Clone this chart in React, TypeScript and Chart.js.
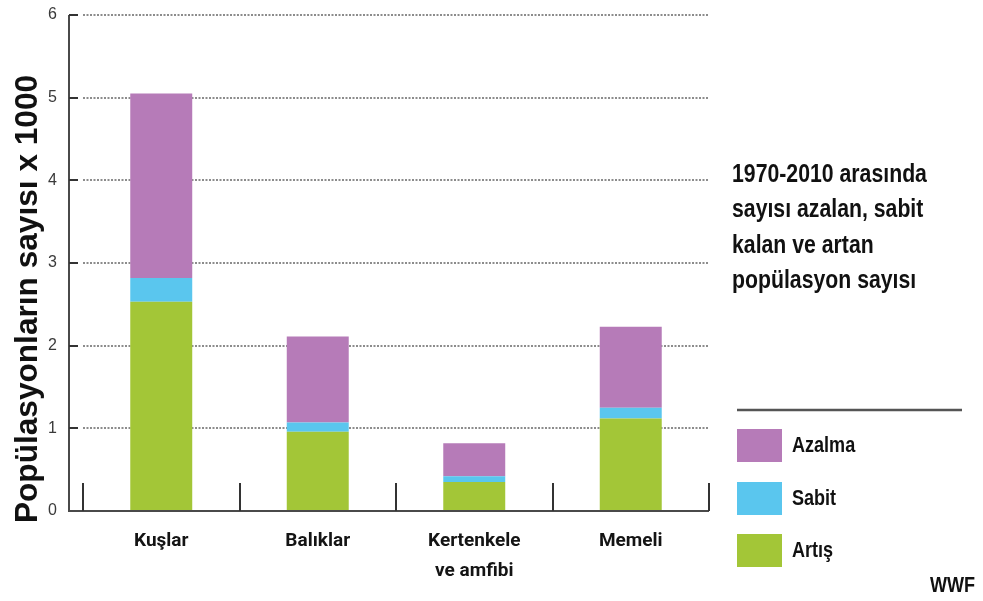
import React, { useEffect, useRef } from "react";
import { Chart, registerables } from "chart.js";

Chart.register(...registerables);

// ---- data ----
const categories: (string | string[])[] = ["Kuşlar", "Balıklar", ["Kertenkele", "ve amfibi"], "Memeli"];
const artis = [2.53, 0.96, 0.35, 1.12];
const sabit = [0.29, 0.11, 0.07, 0.13];
const azalma = [2.23, 1.04, 0.4, 0.98];
const yTickValues = [0, 1, 2, 3, 4, 5, 6];
const seriesNames = ["Artış", "Sabit", "Azalma"];
const seriesColors = ["#a3c637", "#5ac6ee", "#b67bb8"];
const yTitle = "Popülasyonların sayısı x 1000";
const noteLines = ["1970-2010 arasında", "sayısı azalan, sabit", "kalan ve artan", "popülasyon sayısı"];
const sourceText = "WWF";

const SANS = '"Liberation Sans", Arial, sans-serif';

function condensedText(ctx: any, text: string, x: number, y: number, sx: number) {
  ctx.save();
  ctx.translate(x, y);
  ctx.scale(sx, 1);
  ctx.fillText(text, 0, 0);
  ctx.restore();
}

const decor = {
  id: "decor",
  beforeDatasetsDraw(chart: any) {
    const { ctx, chartArea: a, scales } = chart;
    const ys = scales.y;
    ctx.save();
    ctx.strokeStyle = "#8c8c8c";
    ctx.lineWidth = 2;
    ctx.setLineDash([2, 1.5]);
    yTickValues.forEach((v) => {
      if (v === 0) return;
      const py = Math.round(ys.getPixelForValue(v));
      ctx.beginPath();
      ctx.moveTo(a.left, py);
      ctx.lineTo(a.right, py);
      ctx.stroke();
    });
    ctx.restore();
  },
  afterDraw(chart: any) {
    const { ctx, chartArea: a, scales } = chart;
    const ys = scales.y;
    const xs = scales.x;
    const axisX = a.left - 14;
    ctx.save();
    ctx.setLineDash([]);
    // axes
    ctx.strokeStyle = "#4a4a4a";
    ctx.lineWidth = 2;
    ctx.beginPath();
    ctx.moveTo(axisX, ys.getPixelForValue(6));
    ctx.lineTo(axisX, a.bottom);
    ctx.lineTo(a.right, a.bottom);
    ctx.stroke();
    // y tick marks
    ctx.strokeStyle = "#333";
    yTickValues.forEach((v) => {
      if (v === 0) return;
      const py = Math.round(ys.getPixelForValue(v));
      ctx.beginPath();
      ctx.moveTo(axisX, py);
      ctx.lineTo(axisX + 9, py);
      ctx.stroke();
    });
    // category boundary ticks
    for (let i = 0; i <= categories.length; i++) {
      const px = Math.round(xs.getPixelForValue(i - 0.5));
      ctx.beginPath();
      ctx.moveTo(px, a.bottom);
      ctx.lineTo(px, a.bottom - 28);
      ctx.stroke();
    }
    // y title
    ctx.save();
    ctx.translate(37, (ys.getPixelForValue(6) + a.bottom) / 2 + 36);
    ctx.rotate(-Math.PI / 2);
    ctx.scale(1.02, 1);
    ctx.fillStyle = "#111";
    ctx.font = `bold 31px ${SANS}`;
    ctx.textAlign = "center";
    ctx.textBaseline = "alphabetic";
    ctx.fillText(yTitle, 0, 0);
    ctx.restore();
    // note text
    ctx.fillStyle = "#111";
    ctx.font = `bold 25px ${SANS}`;
    ctx.textAlign = "left";
    ctx.textBaseline = "alphabetic";
    const baselines = [182, 217, 253, 288];
    noteLines.forEach((t, i) => condensedText(ctx, t, 732, baselines[i], 0.85));
    // legend rule
    ctx.strokeStyle = "#555";
    ctx.lineWidth = 2.5;
    ctx.beginPath();
    ctx.moveTo(737, 410);
    ctx.lineTo(962, 410);
    ctx.stroke();
    // legend entries (top to bottom: reversed dataset order)
    const ds = chart.data.datasets;
    const tops = [429, 482, 534];
    ctx.font = `bold 22px ${SANS}`;
    ctx.textBaseline = "middle";
    for (let k = 0; k < ds.length; k++) {
      const d = ds[ds.length - 1 - k];
      ctx.fillStyle = d.backgroundColor;
      ctx.fillRect(737, tops[k], 45, 33);
      ctx.fillStyle = "#111";
      condensedText(ctx, d.label, 792, tops[k] + 17, 0.82);
    }
    // source
    ctx.textAlign = "right";
    ctx.font = `bold 22px ${SANS}`;
    condensedText(ctx, sourceText, 975, 586, 0.82);
    ctx.restore();
  },
};

export default function App() {
  const ref = useRef<HTMLCanvasElement>(null);
  useEffect(() => {
    const canvas = ref.current!;
    const chart = new Chart(canvas, {
      type: "bar",
      data: {
        labels: categories,
        datasets: [
          { label: seriesNames[0], data: artis, backgroundColor: seriesColors[0] },
          { label: seriesNames[1], data: sabit, backgroundColor: seriesColors[1] },
          { label: seriesNames[2], data: azalma, backgroundColor: seriesColors[2] },
        ],
      },
      options: {
        responsive: false,
        animation: false,
        layout: { padding: { top: 15, right: 274, left: 0, bottom: 0 } },
        datasets: { bar: { categoryPercentage: 1, barPercentage: 0.396 } },
        plugins: { legend: { display: false }, tooltip: { enabled: false } },
        scales: {
          x: {
            stacked: true,
            grid: { display: false, drawTicks: false },
            border: { display: false },
            ticks: {
              color: "#141414",
              padding: 16,
              font: { family: "Roboto, " + SANS, size: 19, weight: "bold", lineHeight: 1.55 },
            },
            afterFit: (s: any) => {
              s.height = 90;
              s.paddingLeft = 0;
              s.paddingRight = 0;
            },
          },
          y: {
            stacked: true,
            min: 0,
            max: 6,
            grid: { display: false, drawTicks: false },
            border: { display: false },
            ticks: {
              stepSize: 1,
              color: "#3a3a3a",
              padding: 26,
              font: { family: SANS, size: 16 },
            },
            afterFit: (s: any) => {
              s.width = 83;
              s.paddingTop = 0;
              s.paddingBottom = 0;
            },
          },
        },
      },
      plugins: [decor],
    });
    return () => chart.destroy();
  }, []);
  return (
    <div style={{ position: "absolute", left: 0, top: 0, width: 983, height: 601, background: "#fff" }}>
      <canvas ref={ref} width={983} height={601} />
    </div>
  );
}
